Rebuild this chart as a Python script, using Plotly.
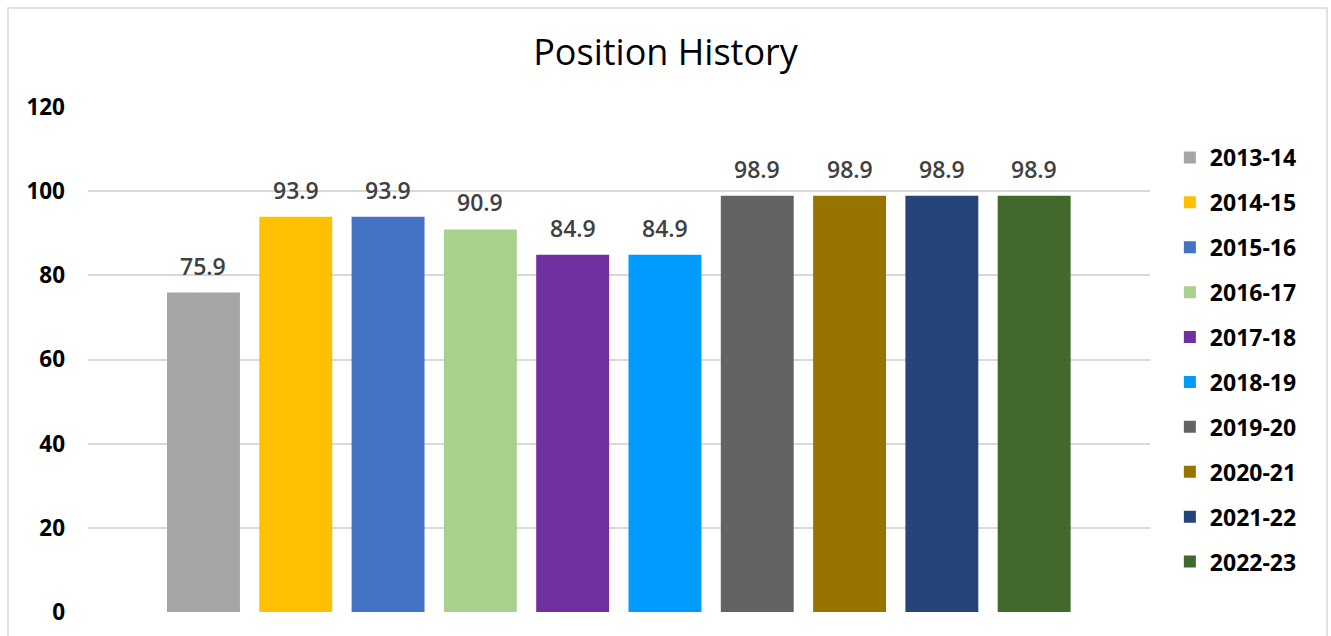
import plotly.graph_objects as go

seasons = ["2013-14", "2014-15", "2015-16", "2016-17", "2017-18",
           "2018-19", "2019-20", "2020-21", "2021-22", "2022-23"]
values = [75.9, 93.9, 93.9, 90.9, 84.9, 84.9, 98.9, 98.9, 98.9, 98.9]
colors = ["#A5A5A5", "#FFC000", "#4472C4", "#A9D18E", "#7030A0",
          "#009BFF", "#636363", "#997300", "#264478", "#43682B"]
y_ticks = [0, 20, 40, 60, 80, 100, 120]

FONT = "Open Sans"
W, H = 1331, 636
ML, MR, MT, MB = 88, 181, 107, 24
PW, PH = W - ML - MR, H - MT - MB

fig = go.Figure()
for s, v, c in zip(seasons, values, colors):
    fig.add_trace(go.Bar(
        x=[s], y=[v], name=s, marker=dict(color=c, line=dict(width=0)),
        width=0.79, legendgroup=s, hoverinfo="x+y",
    ))

annotations = [
    dict(x=s, y=v, xref="x", yref="y", text=f"{v:.1f}", showarrow=False,
         yanchor="bottom", yshift=9,
         font=dict(family=FONT, size=23, color="#404040", weight=600))
    for s, v in zip(seasons, values)
]

# chart border (Excel chart area outline)
bx0, bx1 = (8 - ML) / PW, (1327 - ML) / PW
by0, by1 = -(660 - (H - MB)) / PH, 1 + (MT - 8) / PH
fig.add_shape(type="rect", xref="paper", yref="paper",
              x0=bx0, x1=bx1, y0=by0, y1=by1,
              line=dict(color="#D9D9D9", width=1.5), fillcolor="rgba(0,0,0,0)",
              layer="below")

fig.update_layout(
    width=W, height=H,
    margin=dict(l=ML, r=MR, t=MT, b=MB, autoexpand=False),
    paper_bgcolor="white", plot_bgcolor="white",
    barmode="overlay",
    title=dict(text="Position History", x=0.5, xref="container", xanchor="center",
               y=1 - 52 / H, yref="container", yanchor="middle",
               font=dict(family=FONT, size=36, color="#000000")),
    xaxis=dict(type="category", categoryorder="array", categoryarray=seasons,
               range=[-1.251, 10.255], showticklabels=False, showgrid=False,
               zeroline=False, showline=False, ticks="", automargin=False),
    yaxis=dict(range=[0, 120], tickvals=y_ticks, showgrid=True,
               gridcolor="#D9D9D9", gridwidth=1.5, zeroline=False, showline=False,
               ticks="", ticklabelstandoff=22, automargin=False,
               tickfont=dict(family=FONT, size=22.5, color="#000000", weight="bold")),
    legend=dict(x=1.0187, xanchor="left", y=0.5, yanchor="middle",
                tracegroupgap=12, itemwidth=30,
                font=dict(family=FONT, size=23, color="#000000", weight="bold"),
                bgcolor="rgba(0,0,0,0)"),
    annotations=annotations,
    showlegend=True,
)

fig.write_html("out.html")
